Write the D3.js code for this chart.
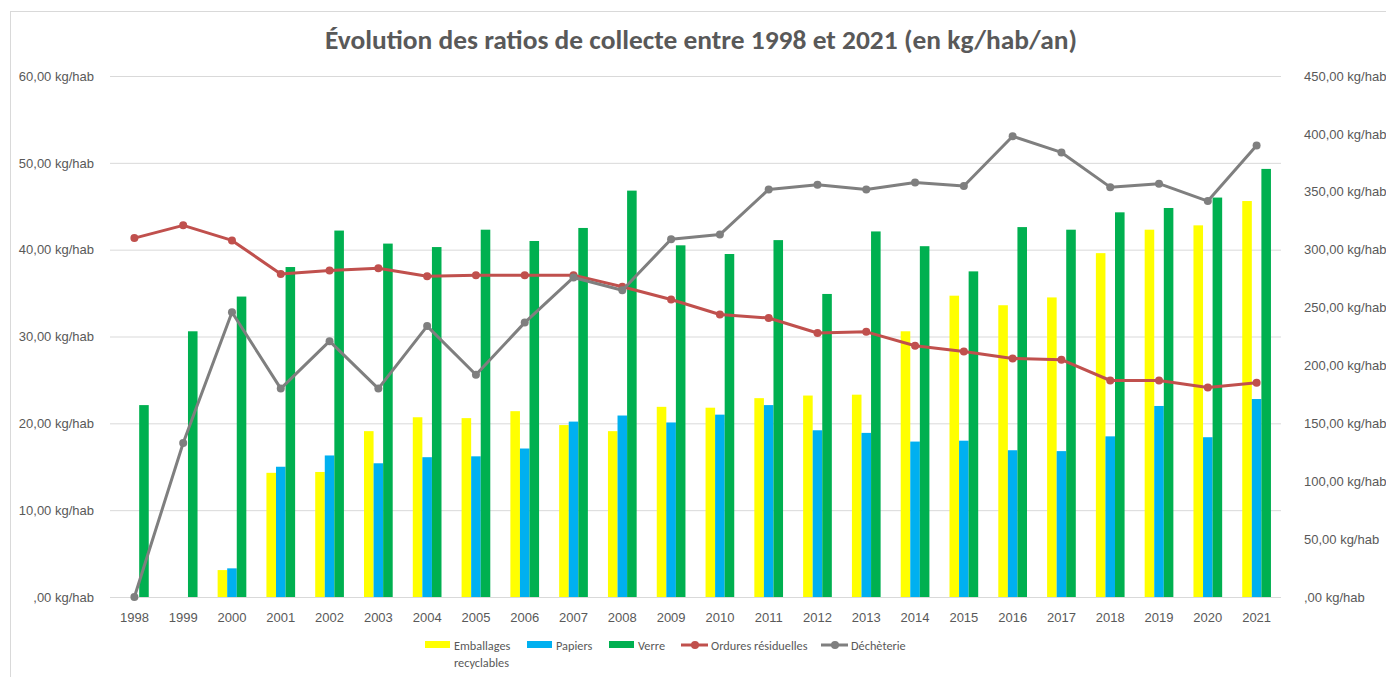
<!DOCTYPE html>
<html>
<head>
<meta charset="utf-8">
<script src="https://cdn.jsdelivr.net/npm/d3@7"></script>
<style>
  body { margin: 0; background: #fff; }
  svg { font-family: Carlito, Calibri, "Liberation Sans", Arial, sans-serif; }
  .axis text { fill: #595959; font-size: 13px; }
  .axis path, .axis line { display: none; }
  .grid line { stroke: #d9d9d9; stroke-width: 1; }
  .grid path { display: none; }
  .leg { fill: #595959; font-size: 12.3px; }
</style>
</head>
<body>
<script>
// chart size
var w = 1386;
var h = 677;

// plot area
var pL = 110, pR = 1281, pT = 76, pB = 597;

// data
var years = ["1998","1999","2000","2001","2002","2003","2004","2005","2006","2007","2008","2009",
             "2010","2011","2012","2013","2014","2015","2016","2017","2018","2019","2020","2021"];
var emballages = [null, null, 3.1, 14.3, 14.4, 19.1, 20.7, 20.6, 21.4, 19.8, 19.1, 21.9,
                  21.8, 22.9, 23.2, 23.3, 30.6, 34.7, 33.6, 34.5, 39.6, 42.3, 42.8, 45.6];
var papiers = [null, null, 3.3, 15.0, 16.3, 15.4, 16.1, 16.2, 17.1, 20.2, 20.9, 20.1,
               21.0, 22.1, 19.2, 18.9, 17.9, 18.0, 16.9, 16.8, 18.5, 22.0, 18.4, 22.8];
var verre = [22.1, 30.6, 34.6, 38.0, 42.2, 40.7, 40.3, 42.3, 41.0, 42.5, 46.8, 40.5,
             39.5, 41.1, 34.9, 42.1, 40.4, 37.5, 42.6, 42.3, 44.3, 44.8, 46.0, 49.3];
var ordures = [310, 321, 308, 279, 282, 284, 277, 278, 278, 278, 268, 257,
               244, 241, 228, 229, 217, 212, 206, 205, 187, 187, 181, 185];
var decheterie = [0, 133, 246, 180, 221, 180, 234, 192, 237, 276, 265, 309,
                  313, 352, 356, 352, 358, 355, 398, 384, 354, 357, 342, 390];

var leftTicks = [0, 10, 20, 30, 40, 50, 60];
var rightTicks = [0, 50, 100, 150, 200, 250, 300, 350, 400, 450];

var barSeries = [
  { name: "Emballages recyclables", values: emballages, col: "#FFFF00" },
  { name: "Papiers", values: papiers, col: "#00B0F0" },
  { name: "Verre", values: verre, col: "#00B050" }
];
var lineSeries = [
  { name: "Ordures résiduelles", values: ordures, col: "#C0504D" },
  { name: "Déchèterie", values: decheterie, col: "#7F7F7F" }
];

// french number format: 10,00 / ,00
var fmt = function(d) {
  var s = d3.format(".2f")(d).replace(".", ",");
  if (s.indexOf("0,") === 0) s = s.substring(1);
  return s + " kg/hab";
};

// scales
var scaleX = d3.scaleBand().domain(years).range([pL, pR]).paddingInner(0).paddingOuter(0);
var scaleSub = d3.scaleBand().domain([0, 1, 2]).range([0, scaleX.bandwidth()]).paddingOuter(1.05).paddingInner(0);
var scaleYL = d3.scaleLinear().domain([0, 60]).range([pB, pT]);
var scaleYR = d3.scaleLinear().domain([0, 450]).range([pB, pT]);

var svg = d3.select("body").append("svg")
  .attr("width", w)
  .attr("height", h);

// chart border
svg.append("rect")
  .attr("x", 10.5).attr("y", 11.5)
  .attr("width", w).attr("height", h)
  .attr("fill", "none")
  .attr("stroke", "#d9d9d9");

// gridlines
svg.append("g")
  .attr("class", "grid")
  .attr("transform", "translate(" + pL + ",0)")
  .call(d3.axisRight(scaleYL).tickValues(leftTicks).tickSize(pR - pL).tickFormat(""));

// bars
barSeries.forEach(function(s, k) {
  svg.append("g").selectAll("rect")
    .data(s.values.map(function(v, i) { return { y: years[i], v: v }; }).filter(function(d) { return d.v !== null; }))
    .enter().append("rect")
    .attr("x", function(d) { return scaleX(d.y) + scaleSub(k); })
    .attr("y", function(d) { return scaleYL(d.v); })
    .attr("width", scaleSub.bandwidth())
    .attr("height", function(d) { return scaleYL(0) - scaleYL(d.v); })
    .attr("fill", s.col);
});

// lines on secondary axis
var line = d3.line()
  .x(function(d, i) { return scaleX(years[i]) + scaleX.bandwidth() / 2; })
  .y(function(d) { return scaleYR(d); });

lineSeries.forEach(function(s) {
  svg.append("path")
    .attr("d", line(s.values))
    .attr("fill", "none")
    .attr("stroke", s.col)
    .attr("stroke-width", 3)
    .attr("stroke-linejoin", "round");
  svg.append("g").selectAll("circle")
    .data(s.values)
    .enter().append("circle")
    .attr("cx", function(d, i) { return scaleX(years[i]) + scaleX.bandwidth() / 2; })
    .attr("cy", function(d) { return scaleYR(d); })
    .attr("r", 4)
    .attr("fill", s.col);
});

// axes
svg.append("g")
  .attr("class", "axis")
  .attr("transform", "translate(" + (pL - 13) + ",0)")
  .call(d3.axisLeft(scaleYL).tickValues(leftTicks).tickSize(0).tickFormat(fmt));
svg.append("g")
  .attr("class", "axis")
  .attr("transform", "translate(" + (pR + 20) + ",0)")
  .call(d3.axisRight(scaleYR).tickValues(rightTicks).tickSize(0).tickFormat(fmt));
svg.append("g")
  .attr("class", "axis")
  .attr("transform", "translate(0," + (pB + 13) + ")")
  .call(d3.axisBottom(scaleX).tickSize(0));

// title
svg.append("text")
  .text("Évolution des ratios de collecte entre 1998 et 2021 (en kg/hab/an)")
  .attr("x", 701)
  .attr("y", 49)
  .attr("text-anchor", "middle")
  .attr("fill", "#595959")
  .attr("font-weight", "bold")
  .attr("font-size", 26)
  .attr("textLength", 752)
  .attr("lengthAdjust", "spacingAndGlyphs");

// legend
var legY = 645;
var legBars = [
  { x: 425, lines: ["Emballages", "recyclables"] },
  { x: 527, lines: ["Papiers"] },
  { x: 609, lines: ["Verre"] }
];
legBars.forEach(function(l, k) {
  svg.append("rect")
    .attr("x", l.x).attr("y", legY - 4)
    .attr("width", 25).attr("height", 7)
    .attr("fill", barSeries[k].col);
  l.lines.forEach(function(t, j) {
    svg.append("text")
      .attr("class", "leg")
      .attr("x", l.x + 29)
      .attr("y", legY + 5 + j * 17)
      .text(t);
  });
});
var legLines = [681, 821];
legLines.forEach(function(x, k) {
  svg.append("line")
    .attr("x1", x).attr("x2", x + 27)
    .attr("y1", legY).attr("y2", legY)
    .attr("stroke", lineSeries[k].col)
    .attr("stroke-width", 3);
  svg.append("circle")
    .attr("cx", x + 14).attr("cy", legY)
    .attr("r", 4)
    .attr("fill", lineSeries[k].col);
  svg.append("text")
    .attr("class", "leg")
    .attr("x", x + 30)
    .attr("y", legY + 5)
    .text(lineSeries[k].name);
});
</script>
</body>
</html>
